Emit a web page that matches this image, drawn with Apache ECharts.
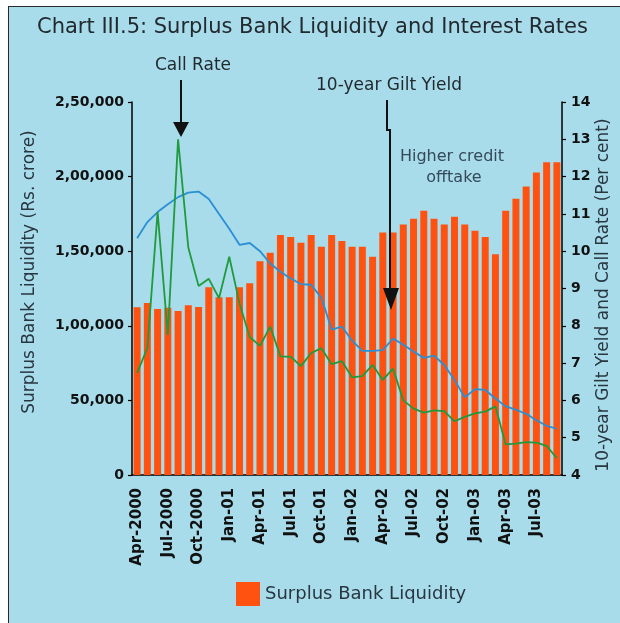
<!DOCTYPE html>
<html>
<head>
<meta charset="utf-8">
<script src="https://cdn.jsdelivr.net/npm/echarts@6/dist/echarts.min.js"></script>
<style>
  html, body { margin: 0; padding: 0; background: #ffffff; }
  #panel { position: absolute; left: 8px; top: 6px; width: 640px; height: 640px;
           background: #a8dcea; border-left: 1.5px solid #2a2a2a; border-top: 1.5px solid #2a2a2a; }
  #chart { position: absolute; left: 0; top: 0; width: 620px; height: 623px; }
</style>
</head>
<body>
<div id="panel"></div>
<div id="chart"></div>
<script>
// Months from Apr-2000 to Sep-2003
const months = [
  'Apr-2000','May-2000','Jun-2000','Jul-2000','Aug-2000','Sep-2000','Oct-2000','Nov-2000','Dec-2000',
  'Jan-01','Feb-01','Mar-01','Apr-01','May-01','Jun-01','Jul-01','Aug-01','Sep-01','Oct-01','Nov-01','Dec-01',
  'Jan-02','Feb-02','Mar-02','Apr-02','May-02','Jun-02','Jul-02','Aug-02','Sep-02','Oct-02','Nov-02','Dec-02',
  'Jan-03','Feb-03','Mar-03','Apr-03','May-03','Jun-03','Jul-03','Aug-03','Sep-03'
];

// Surplus bank liquidity (Rs. crore)
const liquidity = [
  112500, 115200, 111200, 112100, 109900, 113700, 112600, 125800, 119100,
  119100, 125800, 128500, 143300, 148900, 160800, 159600, 155600, 160800, 152900, 160800, 156800,
  152900, 152900, 146200, 162600, 162600, 167900, 171700, 177100, 171700, 167900, 173100, 167900,
  163700, 159600, 148000, 177100, 185200, 193300, 202700, 209600, 209600
];

// 10-year gilt yield (per cent)
const giltYield = [
  10.35, 10.78, 11.05, 11.26, 11.45, 11.57, 11.60, 11.40, 11.00,
  10.60, 10.17, 10.22, 10.00, 9.67, 9.45, 9.27, 9.12, 9.10, 8.75, 7.90, 7.98,
  7.60, 7.33, 7.33, 7.35, 7.66, 7.49, 7.31, 7.14, 7.20, 6.95, 6.55, 6.08,
  6.30, 6.28, 6.05, 5.84, 5.75, 5.64, 5.47, 5.32, 5.24
];

// Call rate (per cent)
const callRate = [
  6.74, 7.40, 11.05, 7.75, 13.00, 10.10, 9.07, 9.26, 8.74,
  9.85, 8.60, 7.70, 7.46, 7.98, 7.18, 7.17, 6.92, 7.27, 7.40, 6.97, 7.05,
  6.62, 6.65, 6.95, 6.55, 6.85, 6.00, 5.78, 5.67, 5.73, 5.71, 5.44, 5.56,
  5.65, 5.70, 5.84, 4.82, 4.84, 4.88, 4.87, 4.78, 4.45
];

// Left axis tick labels in lakh grouping
const liquidityTickLabels = ['0', '50,000', '1,00,000', '1,50,000', '2,00,000', '2,50,000'];

const chart = echarts.init(document.getElementById('chart'), null, { renderer: 'canvas' });

const axisFont = 'DejaVu Sans';
const ink = '#111111';
const textInk = '#283640';

chart.setOption({
  backgroundColor: 'transparent',
  animation: false,
  grid: { left: 132, right: 58, top: 102, bottom: 148, containLabel: false },
  legend: {
    data: ['Surplus Bank Liquidity'],
    left: 231, top: 577,
    icon: 'rect', itemWidth: 24, itemHeight: 24, itemGap: 8,
    textStyle: { fontFamily: axisFont, fontSize: 18, color: textInk }
  },
  xAxis: {
    type: 'category',
    data: months,
    boundaryGap: true,
    axisLine: { lineStyle: { color: '#000', width: 1.5 } },
    axisTick: { interval: 2, length: 5, lineStyle: { color: '#000', width: 1.2 } },
    axisLabel: {
      interval: 2, rotate: 90, margin: 13,
      fontFamily: axisFont, fontWeight: 'bold', fontSize: 15, color: ink
    },
    splitLine: { show: false }
  },
  yAxis: [
    {
      type: 'value', position: 'left',
      min: 0, max: 250000, interval: 50000,
      axisLine: { show: true, lineStyle: { color: '#000', width: 1.5 } },
      axisTick: { show: true, length: 4, lineStyle: { color: '#000', width: 1.2 } },
      axisLabel: {
        margin: 8, fontFamily: axisFont, fontWeight: 'bold', fontSize: 14, color: ink,
        formatter: v => liquidityTickLabels[Math.round(v / 50000)]
      },
      splitLine: { show: false }
    },
    {
      type: 'value', position: 'right',
      min: 4, max: 14, interval: 1,
      axisLine: { show: true, lineStyle: { color: '#000', width: 1.5 } },
      axisTick: { show: true, length: 4, lineStyle: { color: '#000', width: 1.2 } },
      axisLabel: { margin: 9, fontFamily: axisFont, fontWeight: 'bold', fontSize: 14, color: ink },
      splitLine: { show: false }
    }
  ],
  series: [
    {
      name: 'Surplus Bank Liquidity',
      type: 'bar', yAxisIndex: 0,
      data: liquidity,
      barWidth: 7,
      itemStyle: { color: '#ff5210' }
    },
    {
      name: '10-year Gilt Yield',
      type: 'line', yAxisIndex: 1,
      data: giltYield,
      showSymbol: false, symbol: 'none',
      lineStyle: { color: '#2a8fd4', width: 1.8 },
      z: 4
    },
    {
      name: 'Call Rate',
      type: 'line', yAxisIndex: 1,
      data: callRate,
      showSymbol: false, symbol: 'none',
      lineStyle: { color: '#1f9a3c', width: 1.8 },
      z: 5
    }
  ],
  graphic: {
    elements: [
      // Title
      { type: 'text', left: 37, top: 17, z: 100,
        style: { text: 'Chart III.5: Surplus Bank Liquidity and Interest Rates',
                 font: '21px "DejaVu Sans"', fill: '#222a30' } },
      // Axis names
      { type: 'text', x: 30, y: 272, rotation: Math.PI / 2, z: 100,
        style: { text: 'Surplus Bank Liquidity (Rs. crore)', font: '17px "DejaVu Sans"',
                 fill: textInk, align: 'center', verticalAlign: 'middle' } },
      { type: 'text', x: 604, y: 295, rotation: Math.PI / 2, z: 100,
        style: { text: '10-year Gilt Yield and Call Rate (Per cent)', font: '17px "DejaVu Sans"',
                 fill: textInk, align: 'center', verticalAlign: 'middle' } },
      // Call rate annotation
      { type: 'text', x: 193, y: 66, z: 100,
        style: { text: 'Call Rate', font: '17px "DejaVu Sans"', fill: '#222a30',
                 align: 'center', verticalAlign: 'middle' } },
      { type: 'line', z: 100, shape: { x1: 181, y1: 80, x2: 181, y2: 124 },
        style: { stroke: '#111', lineWidth: 2 } },
      { type: 'polygon', z: 100, shape: { points: [[173, 122], [189, 122], [181, 137]] },
        style: { fill: '#111' } },
      // Gilt yield annotation
      { type: 'text', x: 389, y: 86, z: 100,
        style: { text: '10-year Gilt Yield', font: '17px "DejaVu Sans"', fill: '#222a30',
                 align: 'center', verticalAlign: 'middle' } },
      { type: 'polyline', z: 100, shape: { points: [[387, 100], [387, 130], [390, 130], [390, 292]] },
        style: { stroke: '#111', lineWidth: 2, fill: null } },
      { type: 'polygon', z: 100, shape: { points: [[383, 288], [399, 288], [391, 310]] },
        style: { fill: '#111' } },
      // Credit offtake note
      { type: 'text', x: 452, y: 157, z: 100,
        style: { text: 'Higher credit', font: '16px "DejaVu Sans"', fill: '#34495a',
                 align: 'center', verticalAlign: 'middle' } },
      { type: 'text', x: 454, y: 178, z: 100,
        style: { text: 'offtake', font: '16px "DejaVu Sans"', fill: '#34495a',
                 align: 'center', verticalAlign: 'middle' } }
    ]
  }
});
</script>
</body>
</html>
